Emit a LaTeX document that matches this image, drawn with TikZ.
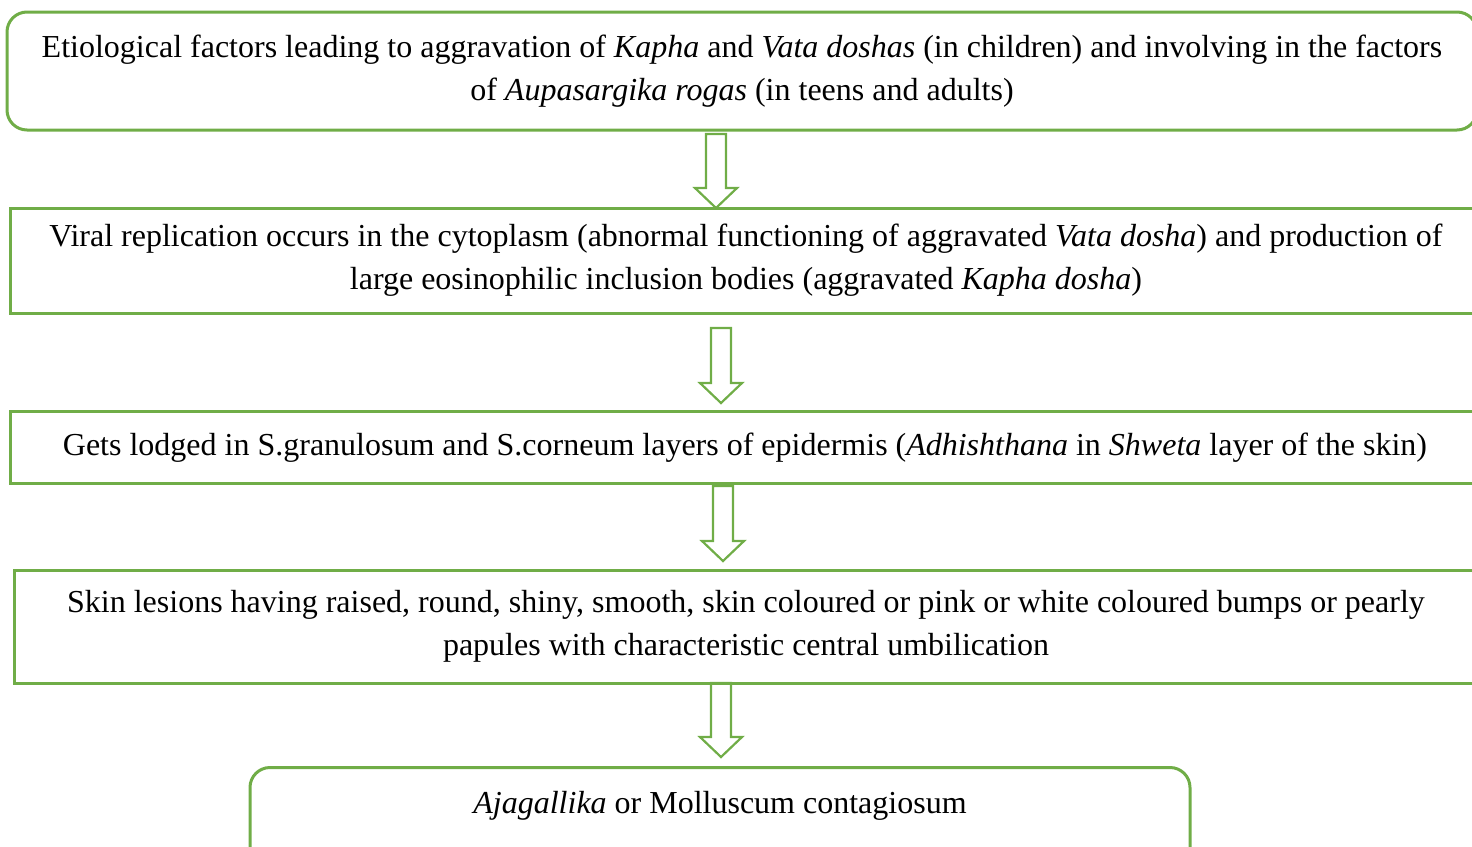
\documentclass[tikz,border=0pt]{standalone}
\usepackage{fontspec}
\setmainfont{Liberation Serif}
\usepackage{tikz}
\usetikzlibrary{calc,positioning}

\definecolor{leafgreen}{HTML}{70AD47}

\tikzset{
  stage/.style={draw=leafgreen, line width=1.5pt, align=center, inner sep=0pt,
    font=\fontsize{16pt}{21.5pt}\selectfont},
  fatarrow/.style={draw=leafgreen, line width=1.1pt, line join=miter},
}

% hollow block arrow from #1 (top of shaft) down to #2 (tip)
\newcommand{\fatdown}[2]{%
  \draw[fatarrow] let \p1=(#1), \p2=(#2) in
    (\x1-5pt,\y1) -- (\x1+5pt,\y1) -- (\x1+5pt,\y2+10pt) -- (\x1+10.5pt,\y2+10pt)
    -- (\x1,\y2) -- (\x1-10.5pt,\y2+10pt) -- (\x1-5pt,\y2+10pt) -- cycle;}

\begin{document}
\begin{tikzpicture}[x=0.5pt,y=-0.5pt]
    \useasboundingbox (0,0) rectangle (1472,846);

    % stages of the pathogenesis
    \node[stage, rounded corners=10pt, minimum width=735pt, minimum height=59pt] (cause) at (742,71)
      {Etiological factors leading to aggravation of \textit{Kapha} and \textit{Vata doshas} (in children) and involving in the factors\\
       of \textit{Aupasargika rogas} (in teens and adults)};
    \node[stage, minimum width=736pt, minimum height=52.5pt] (virus) at (746,260.5)
      {Viral replication occurs in the cytoplasm (abnormal functioning of aggravated \textit{Vata dosha}) and production of\\
       large eosinophilic inclusion bodies (aggravated \textit{Kapha dosha})};
    \node[stage, minimum width=735pt, minimum height=36pt] (lodge) at (745,447.5)
      {Gets lodged in S.granulosum and S.corneum layers of epidermis (\textit{Adhishthana} in \textit{Shweta} layer of the skin)};
    \node[stage, minimum width=732pt, minimum height=56.5pt] (lesion) at (746,626.5)
      {Skin lesions having raised, round, shiny, smooth, skin coloured or pink or white coloured bumps or pearly\\
       papules with characteristic central umbilication};
    \node[stage, rounded corners=10pt, anchor=north, minimum width=470pt, text height=23pt, text depth=29pt] (disease) at (720,766)
      {\textit{Ajagallika} or Molluscum contagiosum};

    % arrows between the stages
    \coordinate (a1) at (716,134);  \coordinate (t1) at (716,208);
    \coordinate (a2) at (721,328);  \coordinate (t2) at (721,403);
    \coordinate (a3) at (723,486);  \coordinate (t3) at (723,561);
    \coordinate (a4) at (721,683);  \coordinate (t4) at (721,757);
    \fatdown{a1}{t1}
    \fatdown{a2}{t2}
    \fatdown{a3}{t3}
    \fatdown{a4}{t4}
\end{tikzpicture}
\end{document}
